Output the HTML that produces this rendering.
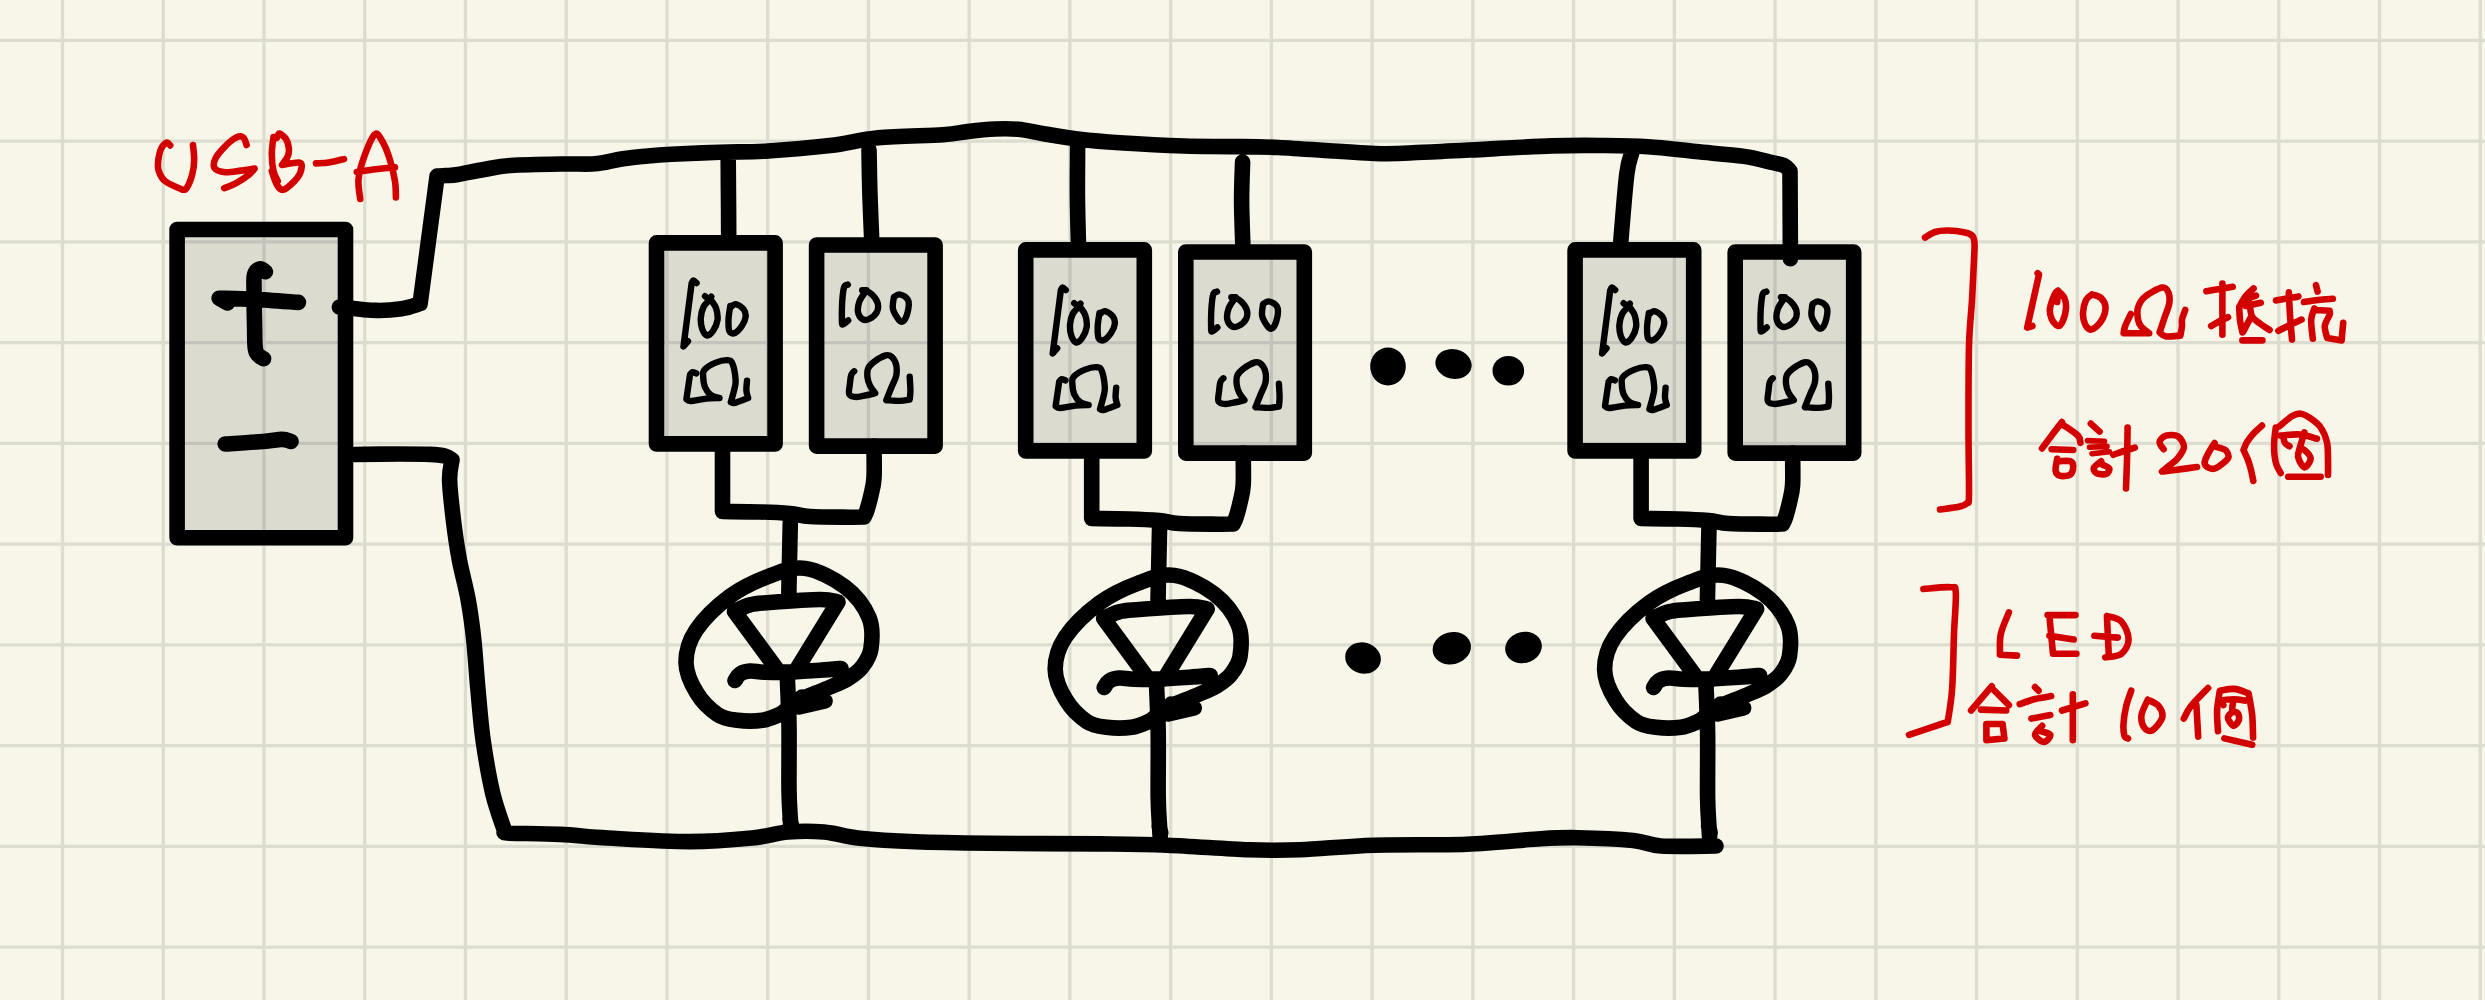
<!DOCTYPE html><html><head><meta charset="utf-8"><style>html,body{margin:0;padding:0;background:#f8f6e8;overflow:hidden}svg{display:block}</style></head><body>
<svg width="2485" height="1000" viewBox="0 0 2485 1000">
<rect width="2485" height="1000" fill="#f8f6e8"/>
<path d="M62.50 0V1000 M163.24 0V1000 M263.98 0V1000 M364.72 0V1000 M465.46 0V1000 M566.20 0V1000 M666.94 0V1000 M767.68 0V1000 M868.42 0V1000 M969.16 0V1000 M1069.90 0V1000 M1170.64 0V1000 M1271.38 0V1000 M1372.12 0V1000 M1472.86 0V1000 M1573.60 0V1000 M1674.34 0V1000 M1775.08 0V1000 M1875.82 0V1000 M1976.56 0V1000 M2077.30 0V1000 M2178.04 0V1000 M2278.78 0V1000 M2379.52 0V1000 M2480.26 0V1000 M0 40.40H2485 M0 141.14H2485 M0 241.88H2485 M0 342.62H2485 M0 443.36H2485 M0 544.10H2485 M0 644.84H2485 M0 745.58H2485 M0 846.32H2485 M0 947.06H2485" stroke="#dcdcd0" stroke-width="3.3" fill="none"/>
<defs><g id="g1"><rect x="656.5" y="242.9" width="118.6" height="201.0" fill="rgba(0,0,16,0.11)" stroke="#000" stroke-width="15.6" stroke-linejoin="round"/><rect x="816.6" y="245.0" width="118.5" height="201.1" fill="rgba(0,0,16,0.11)" stroke="#000" stroke-width="15.6" stroke-linejoin="round"/><path d="M696.6 283.0 C696.1 282.6 694.2 280.3 693.4 280.4 C692.6 280.5 691.9 283.0 691.6 283.5 L683.5 346.5 L688.0 341.1 M705.0 296.2 L706.0 297.0 M711.3 296.6 L710.5 297.5 M709.6 299.7 C708.6 300.9 705.0 303.9 703.5 307.0 C702.0 310.1 701.0 314.3 700.8 318.0 C700.6 321.7 701.2 326.1 702.2 329.0 C703.2 331.9 705.2 335.2 707.0 335.5 C708.8 335.8 711.2 333.6 713.0 331.0 C714.8 328.4 717.0 323.8 717.5 320.0 C718.0 316.2 717.1 311.3 716.0 308.0 C714.9 304.7 711.8 301.3 711.0 300.0 M730.3 307.8 C731.2 307.2 733.5 303.9 735.7 304.2 C738.0 304.5 742.1 307.5 743.8 309.6 C745.4 311.7 745.9 314.1 745.6 316.8 C745.3 319.5 743.8 323.1 742.0 325.8 C740.2 328.5 736.9 332.1 734.8 333.0 C732.7 333.9 730.4 333.4 729.4 331.2 C728.4 328.9 728.4 323.7 728.5 319.5 C728.6 315.3 730.0 308.2 730.3 306.0 M696.3 373.4 C695.6 373.2 693.4 372.0 692.4 372.2 C691.4 372.4 690.4 374.2 690.0 374.6 L686.4 399.2 C687.1 399.5 687.3 401.1 690.6 401.0 C693.9 400.9 701.4 399.1 706.2 398.6 C711.0 398.1 717.2 398.1 719.4 398.0 M719.4 398.0 C718.0 397.5 713.4 396.8 711.0 395.0 C708.6 393.2 706.3 390.2 705.0 387.2 C703.7 384.2 703.3 379.9 703.2 377.0 C703.1 374.1 702.3 372.2 704.4 369.8 C706.5 367.4 711.9 364.2 715.8 362.6 C719.7 361.0 725.0 360.0 727.8 360.2 C730.6 360.4 731.3 360.5 732.6 363.8 C733.9 367.1 735.3 375.8 735.6 380.0 C735.9 384.2 735.2 385.3 734.4 389.0 C733.6 392.7 731.4 400.0 730.8 402.2 C731.5 402.3 732.1 403.5 735.0 402.8 C737.9 402.1 746.0 398.8 748.2 398.0 C747.9 396.8 746.6 393.7 746.4 390.8 C746.2 387.9 746.9 382.3 747.0 380.6 M847.8 284.7 C847.2 285.2 844.9 284.7 844.0 287.5 C843.1 290.3 842.6 296.2 842.2 301.5 C841.9 306.8 841.8 315.1 841.9 319.0 C842.0 322.9 841.5 324.4 842.6 324.6 C843.7 324.8 847.3 321.1 848.2 320.4 M862.2 290.3 L866.4 290.3 M865.0 292.4 C864.1 293.9 860.6 298.2 859.4 301.5 C858.2 304.8 857.5 309.1 858.0 312.0 C858.5 314.9 860.3 317.8 862.2 319.0 C864.1 320.2 866.8 320.2 869.2 319.0 C871.7 317.8 875.5 314.7 876.9 312.0 C878.3 309.3 878.4 305.8 877.6 302.9 C876.8 300.0 874.1 296.6 872.0 294.5 C869.9 292.4 866.2 291.0 865.0 290.3 M894.4 296.6 C895.3 296.2 897.8 294.0 900.0 294.5 C902.2 295.0 906.3 297.1 907.7 299.4 C909.1 301.7 909.0 305.0 908.4 308.5 C907.8 312.0 905.7 318.4 904.2 320.4 C902.7 322.4 901.2 322.3 899.3 320.4 C897.4 318.5 893.9 312.9 893.0 309.2 C892.1 305.5 893.6 299.9 893.7 298.0 M854.2 371.3 C853.7 371.9 851.9 372.8 851.2 374.9 C850.5 377.0 850.2 380.8 849.9 384.0 C849.6 387.2 848.2 392.2 849.3 394.4 C850.4 396.6 853.4 396.9 856.4 397.0 C859.4 397.1 864.4 395.6 867.5 395.0 C870.6 394.4 874.0 393.4 875.3 393.1 C874.4 391.9 871.4 388.5 870.1 385.9 C868.8 383.3 867.8 380.4 867.5 377.5 C867.2 374.6 867.0 371.0 868.1 368.4 C869.2 365.8 871.1 364.1 874.0 361.9 C876.9 359.7 882.8 356.3 885.7 355.4 C888.6 354.5 889.8 355.2 891.5 356.7 C893.2 358.2 895.3 361.2 896.1 364.5 C896.9 367.8 896.9 372.4 896.1 376.2 C895.3 380.0 893.1 383.2 891.5 387.2 C889.9 391.2 887.2 398.0 886.3 400.2 C888.6 400.3 896.1 401.0 900.0 400.9 C903.9 400.8 908.1 399.8 909.7 399.6 C909.8 398.1 910.4 394.3 910.4 390.5 C910.4 386.7 909.8 379.1 909.7 376.8" fill="none" stroke="#000" stroke-linecap="round" stroke-linejoin="round" stroke-width="6.4"/><path d="M722.5 444.0 L722.5 511.5 C728.8 511.6 748.8 511.7 760.0 512.0 C771.2 512.3 781.7 512.8 790.0 513.5 C798.3 514.2 800.0 515.9 810.0 516.5 C820.0 517.1 841.0 517.1 850.0 517.2 C859.0 517.3 861.7 517.0 864.0 517.0 C864.5 515.8 865.8 513.7 867.0 510.0 C868.2 506.3 869.8 500.3 871.0 495.0 C872.2 489.7 873.5 486.2 874.0 478.0 C874.5 469.8 874.0 451.3 874.0 446.0 M790.5 515.0 C790.3 522.5 789.8 545.8 789.5 560.0 C789.2 574.2 788.8 593.3 788.7 600.0 M734.5 611.5 C737.1 610.4 744.1 606.2 750.0 604.8 C755.9 603.2 758.3 603.4 770.0 602.5 C781.7 601.6 808.7 599.6 820.0 599.5 C831.3 599.4 835.0 601.6 838.0 602.0 L795.0 672.0 L779.0 672.0 L734.5 611.5 M735.0 680.5 C735.8 679.4 737.5 675.6 740.0 674.0 C742.5 672.4 745.8 671.3 750.0 671.0 C754.2 670.7 758.3 672.1 765.0 672.3 C771.7 672.5 780.8 672.4 790.0 672.0 C799.2 671.6 811.5 670.8 820.0 670.2 C828.5 669.6 837.5 668.8 841.0 668.5 M787.1 672.0 C787.4 680.8 788.7 705.3 789.0 725.0 C789.3 744.7 788.8 773.8 789.0 790.0 C789.2 806.2 790.2 815.3 790.5 822.0 C790.8 828.7 790.9 828.7 791.0 830.0 M790.0 819.0 L791.5 826.0 M781.0 714.0 C777.9 715.0 769.8 719.2 762.5 720.3 C755.2 721.3 745.0 721.3 737.5 720.3 C730.0 719.3 724.3 718.9 717.5 714.4 C710.7 709.9 702.1 701.8 696.9 693.1 C691.6 684.5 686.1 673.0 686.0 662.5 C685.9 652.0 688.9 641.0 696.2 630.0 C703.6 619.0 717.9 605.2 730.0 596.2 C742.1 587.3 756.2 580.9 768.8 576.2 C781.2 571.6 792.3 566.6 805.0 568.4 C817.7 570.2 834.3 578.7 845.0 586.9 C855.7 595.1 864.7 607.1 869.0 617.5 C873.3 627.9 872.1 640.8 870.9 649.0 C869.7 657.2 865.6 662.2 862.0 667.0 C858.4 671.8 853.5 675.0 849.0 678.0 C844.5 681.0 840.5 682.5 835.0 685.0 C829.5 687.5 822.2 690.3 816.0 693.0 C809.8 695.7 803.8 697.5 798.0 701.0 C792.2 704.5 783.8 711.8 781.0 714.0 M799.0 707.0 L825.0 701.0 M802.0 697.0 L803.0 698.0" fill="none" stroke="#000" stroke-linecap="round" stroke-linejoin="round" stroke-width="15.6"/></g></defs>
<use href="#g1"/>
<use href="#g1" transform="translate(369.2 7)"/>
<use href="#g1" transform="translate(918.6 7)"/>
<rect x="177.1" y="229.5" width="168.4" height="308.3" fill="rgba(0,0,16,0.11)" stroke="#000" stroke-width="15.6" stroke-linejoin="round"/>
<path d="M219.2 298.2 C225.0 298.4 240.8 298.7 254.0 299.4 C267.2 300.1 291.0 301.9 298.4 302.4 M219.2 298.2 L227.6 303.0 M265.4 271.8 C264.5 271.3 261.8 268.4 260.0 268.8 C258.2 269.2 255.6 271.3 254.6 274.2 C253.6 277.1 254.0 277.4 254.0 286.2 C254.0 295.0 254.3 316.2 254.6 327.0 C254.9 337.8 254.3 345.7 255.8 351.0 C257.3 356.3 262.3 357.5 263.6 358.8 M225.2 444.0 C231.5 443.6 253.6 442.3 263.0 441.5 C272.4 440.7 277.2 439.4 281.9 439.4 C286.6 439.4 289.5 441.1 291.0 441.5 M339.4 307.0 C345.5 307.6 365.6 310.1 376.0 310.4 C386.4 310.7 394.1 309.8 401.5 308.7 C408.9 307.6 417.0 304.5 420.1 303.6 L437.1 176.1 C438.6 176.0 442.5 175.9 446.0 175.6 C449.5 175.3 451.7 175.5 458.0 174.5 C464.3 173.5 475.2 171.0 484.0 169.5 C492.8 168.0 497.8 166.4 510.5 165.5 C523.2 164.6 546.4 164.2 560.0 164.0 C573.6 163.8 584.2 164.3 592.0 164.0 C599.8 163.7 601.8 162.9 607.0 162.0 C612.2 161.1 616.2 159.8 623.0 158.8 C629.8 157.8 639.9 156.8 648.0 156.0 C656.1 155.2 659.4 154.9 671.4 154.3 C683.4 153.7 703.6 152.8 719.7 152.2 C735.8 151.6 749.6 152.1 768.0 151.0 C786.4 149.9 811.6 147.8 830.0 145.6 C848.4 143.4 859.5 139.5 878.3 137.7 C897.1 135.9 927.8 135.8 942.7 134.8 C957.7 133.8 959.3 132.5 968.0 131.5 C976.7 130.5 986.7 129.4 995.0 129.0 C1003.3 128.6 1009.7 128.5 1018.0 129.3 C1026.3 130.1 1034.8 132.3 1045.0 134.0 C1055.2 135.7 1067.0 137.8 1079.5 139.3 C1092.0 140.8 1102.3 141.7 1119.7 142.8 C1137.1 143.9 1165.7 145.4 1184.1 146.0 C1202.5 146.6 1214.3 146.3 1230.0 146.6 C1245.7 146.8 1254.1 146.3 1278.3 147.5 C1302.5 148.7 1350.8 152.7 1374.9 153.5 C1399.1 154.3 1404.4 153.0 1423.2 152.3 C1442.0 151.6 1466.0 150.2 1487.5 149.1 C1509.0 148.0 1533.2 146.5 1551.9 145.9 C1570.7 145.3 1584.0 145.3 1600.0 145.5 C1616.0 145.7 1632.0 145.8 1648.0 146.8 C1664.0 147.8 1680.0 150.0 1696.0 151.6 C1712.0 153.2 1731.3 154.6 1744.0 156.4 C1756.7 158.2 1765.3 161.0 1772.0 162.5 C1778.7 164.0 1781.0 164.1 1784.0 165.5 C1787.0 166.9 1789.0 170.1 1790.0 171.0 L1790.4 258.8 M728.2 158.0 C728.2 165.0 728.4 187.0 728.5 200.0 C728.6 213.0 728.7 230.0 728.7 236.0 M869.0 150.0 C869.1 156.7 869.4 175.5 869.8 190.0 C870.2 204.5 871.3 229.2 871.6 237.0 M1077.6 146.0 C1077.6 154.2 1077.3 179.1 1077.4 195.0 C1077.5 210.9 1078.2 233.8 1078.4 241.6 M1242.6 162.0 C1242.4 168.3 1241.6 186.3 1241.6 200.0 C1241.6 213.7 1242.6 236.7 1242.8 244.0 M1632.0 152.0 C1631.1 155.7 1628.6 159.7 1626.8 174.0 C1625.0 188.3 1622.1 226.3 1621.1 238.0 C1620.1 249.7 1621.0 243.0 1621.0 244.0 M354.0 454.5 C361.7 454.4 387.3 454.0 400.0 454.0 C412.7 454.0 422.5 454.1 430.0 454.4 C437.5 454.7 441.3 455.1 445.0 456.0 C448.7 456.9 450.8 459.3 452.0 460.0 C451.6 463.3 449.4 470.0 449.6 480.0 C449.8 490.0 451.8 506.7 453.4 520.0 C455.0 533.3 456.9 546.7 459.4 560.0 C461.9 573.3 465.8 586.7 468.2 600.0 C470.6 613.3 472.2 625.0 473.8 640.0 C475.4 655.0 476.4 673.2 478.0 690.0 C479.6 706.8 480.7 723.5 483.2 740.8 C485.7 758.1 489.2 778.4 492.8 793.6 C496.4 808.8 503.0 825.6 505.0 832.0 C505.8 832.2 500.4 832.8 509.6 833.2 C518.8 833.6 543.6 833.6 560.0 834.4 C576.4 835.2 586.4 836.8 608.0 838.0 C629.6 839.2 665.6 841.6 689.6 841.6 C713.6 841.6 735.6 839.6 752.0 838.0 C768.4 836.4 776.0 833.0 788.0 832.0 C800.0 831.0 812.0 831.0 824.0 832.0 C836.0 833.0 844.8 836.6 860.0 838.2 C875.2 839.8 893.9 840.9 915.5 841.8 C937.1 842.6 958.8 842.9 989.6 843.3 C1020.5 843.6 1071.0 843.6 1100.6 843.9 C1130.2 844.2 1142.6 844.2 1167.3 845.2 C1192.0 846.2 1226.6 849.0 1248.7 849.8 C1270.8 850.6 1279.1 850.6 1300.0 849.8 C1320.9 849.0 1346.2 846.1 1374.0 845.2 C1401.8 844.3 1438.8 845.3 1466.6 844.2 C1494.4 843.1 1522.1 839.8 1540.6 838.7 C1559.1 837.6 1562.3 837.4 1577.7 837.7 C1593.1 838.0 1619.3 839.1 1633.2 840.5 C1647.1 841.9 1647.2 845.1 1661.0 846.0 C1674.8 846.9 1706.8 846.0 1716.0 846.0 " fill="none" stroke="#000" stroke-linecap="round" stroke-linejoin="round" stroke-width="15.6"/>
<ellipse cx="1388.0" cy="366.5" rx="17.8" ry="19.0" transform="rotate(0 1388.0 366.5)" fill="#000"/><ellipse cx="1453.5" cy="364.0" rx="18.3" ry="14.8" transform="rotate(12 1453.5 364.0)" fill="#000"/><ellipse cx="1508.3" cy="370.8" rx="15.8" ry="14.8" transform="rotate(0 1508.3 370.8)" fill="#000"/><ellipse cx="1363.0" cy="658.0" rx="18.0" ry="15.5" transform="rotate(15 1363.0 658.0)" fill="#000"/><ellipse cx="1451.8" cy="648.2" rx="19.4" ry="16.0" transform="rotate(-15 1451.8 648.2)" fill="#000"/><ellipse cx="1523.5" cy="647.5" rx="18.5" ry="15.5" transform="rotate(-15 1523.5 647.5)" fill="#000"/>
<path d="M170.2 145.4 C169.6 144.9 168.1 142.0 166.6 142.6 C165.1 143.2 162.4 145.9 161.0 149.0 C159.6 152.1 158.6 157.4 158.2 161.0 C157.8 164.6 157.5 167.3 158.6 170.6 C159.7 173.9 161.0 177.8 165.0 181.0 C169.0 184.2 179.7 188.3 182.6 189.8 C183.3 189.5 185.0 190.7 186.6 188.2 C188.2 185.7 190.9 179.3 192.2 174.6 C193.5 169.9 194.1 165.1 194.2 160.2 C194.3 155.3 193.2 147.5 193.0 145.0 M246.6 145.0 C246.2 143.9 245.3 140.1 244.2 138.6 C243.1 137.1 242.1 136.1 240.2 136.2 C238.3 136.3 235.8 137.4 233.0 139.4 C230.2 141.4 226.3 145.0 223.4 148.2 C220.5 151.4 216.9 155.3 215.4 158.6 C213.9 161.9 213.0 165.9 214.6 168.2 C216.2 170.5 220.6 171.8 225.0 172.2 C229.4 172.6 236.1 171.2 241.0 170.6 C245.9 170.0 252.3 168.9 254.6 168.6 C253.7 169.6 251.9 172.3 249.0 174.6 C246.1 176.9 241.1 180.3 237.0 182.6 C232.9 184.9 226.3 187.3 224.2 188.2 M273.5 137.0 C273.2 139.8 271.8 148.3 271.8 154.0 C271.8 159.7 272.5 166.5 273.5 171.0 C274.5 175.5 277.1 179.5 277.8 181.2 M276.9 137.9 C277.3 137.2 277.9 133.3 279.5 133.6 C281.1 133.9 284.8 137.2 286.3 139.6 C287.9 142.0 288.5 145.3 288.8 148.0 C289.1 150.7 289.1 152.9 288.0 155.7 C286.9 158.5 283.0 163.4 282.0 165.0 C284.8 164.6 295.7 162.1 299.0 162.5 C302.3 162.9 301.9 165.0 301.6 167.6 C301.3 170.2 300.3 174.1 297.3 177.8 C294.3 181.5 287.1 188.6 283.7 189.7 C280.3 190.8 278.9 187.7 276.9 184.6 C274.9 181.5 272.6 173.3 271.8 171.0 M316.0 163.4 C318.1 163.2 324.1 163.2 328.8 162.5 C333.5 161.8 341.5 159.7 344.0 159.1 M360.2 199.0 C359.9 195.8 357.9 186.3 358.5 179.5 C359.1 172.7 360.9 165.8 363.6 158.3 C366.3 150.8 371.6 137.3 374.7 134.5 C377.8 131.7 379.8 137.1 382.3 141.3 C384.9 145.6 387.9 153.3 390.0 160.0 C392.1 166.7 394.0 175.0 395.0 181.2 C396.0 187.4 395.8 194.7 395.9 197.4 M356.8 171.9 C359.9 171.5 369.1 170.1 375.5 169.3 C381.9 168.5 391.8 167.5 395.0 167.2 M1925.0 237.5 C1926.7 236.6 1931.2 233.2 1935.0 232.0 C1938.8 230.8 1943.0 230.4 1948.0 230.5 C1953.0 230.6 1960.9 231.6 1965.0 232.5 C1969.1 233.4 1970.9 234.2 1972.5 236.0 C1974.1 237.8 1974.2 239.0 1974.5 243.0 C1974.8 247.0 1974.4 250.5 1974.0 260.0 C1973.6 269.5 1972.8 285.7 1972.0 300.0 C1971.2 314.3 1969.6 324.3 1969.0 346.0 C1968.4 367.7 1968.5 405.2 1968.5 430.0 C1968.5 454.8 1969.2 482.8 1969.0 495.0 C1968.8 507.2 1968.5 501.1 1967.0 503.0 C1965.5 504.9 1964.5 505.4 1960.0 506.5 C1955.5 507.6 1943.3 509.0 1940.0 509.5 M1923.4 589.0 C1927.9 588.7 1945.0 586.6 1950.4 587.2 C1955.8 587.8 1955.2 584.8 1955.8 592.6 C1956.4 600.4 1954.6 618.1 1954.0 634.0 C1953.4 649.9 1953.2 673.3 1952.2 688.0 C1951.2 702.7 1948.5 716.5 1947.7 722.2 C1946.7 722.5 1947.9 721.9 1941.4 724.0 C1935.0 726.1 1914.4 733.0 1909.0 734.8 M2037.6 273.2 L2039.0 274.5 L2027.2 327.6 L2032.4 326.0 M2057.2 302.0 L2058.0 290.8 M2058.0 290.8 C2059.1 292.0 2063.1 295.1 2064.4 298.0 C2065.7 300.9 2066.3 304.5 2066.0 308.4 C2065.7 312.3 2064.1 318.3 2062.8 321.2 C2061.5 324.1 2059.9 326.4 2058.0 326.0 C2056.1 325.6 2052.9 321.7 2051.6 318.8 C2050.3 315.9 2049.5 312.5 2050.0 308.4 C2050.5 304.3 2053.5 296.9 2054.8 294.0 C2056.1 291.1 2057.5 291.3 2058.0 290.8 M2092.0 294.5 C2093.5 295.1 2098.8 295.9 2101.0 298.0 C2103.2 300.1 2105.2 303.7 2105.5 307.0 C2105.8 310.3 2104.6 314.7 2103.0 318.0 C2101.4 321.3 2098.2 325.1 2096.0 327.0 C2093.8 328.9 2091.8 330.0 2090.0 329.5 C2088.2 329.0 2086.2 326.8 2085.0 324.0 C2083.8 321.2 2082.8 317.0 2083.0 313.0 C2083.2 309.0 2084.5 303.1 2086.0 300.0 C2087.5 296.9 2091.0 295.4 2092.0 294.5 M2130.8 314.0 C2129.9 316.0 2126.4 322.8 2125.2 326.0 C2124.0 329.2 2123.9 332.0 2123.6 333.2 L2149.2 333.2 C2147.9 332.1 2143.1 328.9 2141.2 326.6 C2139.3 324.3 2138.5 322.8 2138.0 319.6 C2137.5 316.4 2136.9 311.3 2138.0 307.6 C2139.1 303.9 2140.4 300.5 2144.4 297.2 C2148.4 293.9 2158.0 288.4 2162.0 287.6 C2166.0 286.8 2167.2 289.7 2168.4 292.4 C2169.6 295.1 2169.9 299.3 2169.2 303.6 C2168.5 307.9 2166.0 313.2 2164.4 318.0 C2162.8 322.8 2160.4 330.0 2159.6 332.4 C2160.7 333.1 2162.5 335.9 2166.0 336.4 C2169.5 336.9 2178.0 335.7 2180.4 335.6 C2180.7 334.0 2181.7 328.7 2182.0 326.0 C2182.3 323.3 2181.5 322.3 2182.0 319.6 C2182.5 316.9 2184.7 311.6 2185.2 310.0 M2206.4 291.2 C2208.7 290.8 2215.6 289.7 2220.0 289.0 C2224.4 288.3 2230.7 287.2 2232.8 286.8 M2222.4 283.6 C2222.4 288.0 2222.4 301.5 2222.4 310.0 C2222.4 318.5 2222.4 330.7 2222.4 334.8 M2211.2 326.0 C2212.7 325.2 2217.2 322.5 2220.0 321.0 C2222.8 319.5 2226.7 317.8 2228.0 317.2 M2253.6 288.4 C2252.2 289.8 2247.4 293.9 2245.0 297.0 C2242.6 300.1 2240.2 305.2 2239.2 306.8 C2239.3 309.0 2239.5 315.7 2240.0 320.0 C2240.5 324.3 2242.0 330.3 2242.4 332.4 M2256.0 295.6 C2255.0 296.0 2251.6 296.7 2250.0 298.0 C2248.4 299.3 2247.0 302.7 2246.4 303.6 M2245.6 306.0 L2260.8 302.8 M2249.6 303.0 C2250.0 305.2 2250.3 313.0 2252.0 316.4 C2253.7 319.8 2257.1 321.2 2260.0 323.5 C2262.9 325.8 2268.0 328.9 2269.6 330.0 M2250.4 318.0 L2243.2 331.6 M2242.4 340.4 L2262.4 340.4 M2276.0 300.4 C2277.8 300.1 2283.3 299.2 2287.0 298.5 C2290.7 297.8 2296.5 296.8 2298.4 296.4 M2288.8 292.4 C2289.0 296.2 2289.5 307.1 2290.0 315.0 C2290.5 322.9 2291.7 335.5 2292.0 339.6 M2278.4 330.8 C2280.3 329.8 2286.1 326.9 2290.0 325.0 C2293.9 323.1 2299.7 320.5 2301.6 319.6 M2316.0 285.2 L2317.6 291.6 M2304.0 302.0 C2306.3 301.7 2313.2 300.5 2318.0 300.0 C2322.8 299.5 2330.3 299.0 2332.8 298.8 M2314.4 308.4 C2313.9 310.3 2311.5 314.5 2311.2 319.6 C2310.9 324.7 2312.5 335.6 2312.8 338.8 M2316.0 310.0 L2329.6 310.8 C2329.6 311.5 2330.4 312.3 2329.6 314.8 C2328.8 317.3 2325.2 322.1 2324.8 326.0 C2324.4 329.9 2326.8 336.0 2327.2 338.0 L2341.6 340.4 L2343.2 322.8 M2062.0 422.0 C2060.3 424.2 2055.3 430.6 2052.0 435.0 C2048.7 439.4 2043.7 446.2 2042.0 448.4 M2063.6 425.2 C2066.0 426.9 2075.2 432.7 2078.0 435.6 C2080.8 438.5 2080.0 441.6 2080.4 442.8 M2051.6 449.2 L2073.2 450.0 M2057.2 458.8 C2056.9 460.8 2055.2 468.0 2055.6 470.8 C2056.0 473.6 2057.2 474.9 2059.6 475.6 C2062.0 476.3 2067.7 476.4 2070.0 474.8 C2072.3 473.2 2073.2 468.3 2073.2 466.0 C2073.2 463.7 2072.1 462.0 2070.0 461.2 C2067.9 460.4 2062.0 461.2 2060.4 461.2 M2090.8 423.6 L2099.6 431.6 M2101.2 461.2 C2100.0 462.3 2094.8 465.6 2094.0 467.6 C2093.2 469.6 2094.4 472.1 2096.4 473.2 C2098.4 474.3 2103.9 474.8 2106.0 474.0 C2108.1 473.2 2109.9 470.0 2109.2 468.4 C2108.5 466.8 2103.2 465.1 2102.0 464.4 M2127.6 427.6 C2127.5 433.0 2127.3 449.9 2127.0 460.0 C2126.7 470.1 2126.2 483.7 2126.0 488.4 M2113.2 454.8 C2115.0 454.2 2120.4 452.2 2124.0 451.0 C2127.6 449.8 2133.0 448.2 2134.8 447.6 M2163.6 449.2 C2162.9 448.0 2159.2 444.3 2159.6 442.0 C2160.0 439.7 2162.9 436.5 2166.0 435.6 C2169.1 434.7 2175.0 434.5 2178.0 436.4 C2181.0 438.3 2184.0 443.4 2184.0 447.0 C2184.0 450.6 2180.3 455.0 2178.0 458.0 C2175.7 461.0 2172.7 462.8 2170.0 465.0 C2167.3 467.2 2163.3 470.4 2162.0 471.5 C2164.2 471.2 2169.2 470.8 2175.0 470.0 C2180.8 469.2 2193.3 467.5 2197.0 467.0 M2214.6 443.0 C2213.7 444.5 2210.7 448.8 2209.0 452.0 C2207.3 455.2 2204.8 459.8 2204.6 462.4 C2204.4 465.0 2206.3 466.5 2208.0 467.5 C2209.7 468.5 2212.3 469.2 2214.6 468.6 C2216.9 468.0 2219.7 465.9 2222.0 464.0 C2224.3 462.1 2227.7 459.6 2228.4 457.4 C2229.1 455.1 2227.2 452.0 2226.0 450.5 C2224.8 449.0 2223.1 448.9 2220.9 448.2 C2218.7 447.4 2214.3 446.4 2213.0 446.0 M2262.0 425.6 C2260.7 426.8 2256.5 430.3 2254.0 433.0 C2251.5 435.7 2248.8 439.2 2247.0 442.0 C2245.2 444.8 2244.1 448.7 2243.5 450.0 C2244.2 451.7 2246.8 456.7 2248.0 460.0 C2249.2 463.3 2250.1 466.5 2251.0 470.0 C2251.9 473.5 2252.9 479.2 2253.3 481.0 M2275.8 427.5 C2275.5 429.9 2274.4 437.4 2274.2 442.0 C2274.0 446.6 2274.1 451.1 2274.5 454.9 C2274.9 458.7 2275.5 462.0 2276.5 465.0 C2277.5 468.0 2280.0 471.7 2280.7 473.0 M2279.5 426.2 C2281.6 424.5 2288.5 418.3 2292.0 416.2 C2295.5 414.1 2297.7 413.4 2300.7 413.7 C2303.7 414.0 2306.7 415.7 2310.0 418.0 C2313.3 420.3 2317.9 423.4 2320.7 427.5 C2323.5 431.6 2325.8 437.0 2327.0 442.4 C2328.2 447.8 2327.8 454.6 2328.0 460.0 C2328.2 465.4 2328.0 472.4 2328.0 474.9 M2280.7 435.5 C2283.9 435.3 2293.9 434.0 2300.0 434.5 C2306.1 435.0 2314.2 438.0 2317.0 438.7 M2283.2 436.2 C2283.5 437.3 2283.9 441.3 2285.0 443.0 C2286.1 444.7 2288.8 445.7 2289.5 446.2 M2304.4 432.4 L2299.5 448.7 C2299.3 450.1 2297.4 454.3 2298.2 457.4 C2299.0 460.5 2302.3 467.2 2304.4 467.4 C2306.5 467.6 2310.7 461.5 2310.7 458.6 C2310.7 455.7 2306.3 451.5 2304.4 449.9 C2302.5 448.2 2300.3 448.9 2299.5 448.7 M2288.2 476.7 L2320.7 476.7 M2008.9 612.4 C2007.6 616.0 2002.3 627.0 2000.8 634.0 C1999.3 641.0 2000.1 651.2 1999.9 654.7 L2017.0 655.6 M2047.6 615.1 L2075.5 615.1 M2049.4 616.0 L2053.0 653.8 M2049.4 635.8 L2073.7 639.4 M2053.0 653.8 L2076.4 653.8 M2107.0 616.0 C2109.4 616.9 2117.8 617.5 2121.4 621.4 C2125.0 625.3 2128.6 634.0 2128.6 639.4 C2128.6 644.8 2125.3 650.8 2121.4 653.8 C2117.5 656.8 2107.9 656.8 2105.2 657.4 M2107.0 617.8 L2108.8 655.6 M2094.4 635.8 L2117.8 637.6 M1991.8 686.2 L1971.1 710.5 M1991.8 688.0 L2008.9 705.1 M1981.0 709.6 L2006.2 710.5 M1986.4 724.0 L1986.4 740.2 L2004.4 738.4 L2002.6 724.0 L1986.4 724.0 M2035.0 687.1 L2038.6 690.7 M2019.7 704.2 C2022.2 703.3 2029.8 700.4 2035.0 699.0 C2040.2 697.6 2048.5 696.6 2051.2 696.1 M2031.4 718.6 L2050.3 715.0 M2042.2 725.8 C2041.0 727.3 2034.7 732.1 2035.0 734.8 C2035.3 737.5 2041.5 742.0 2044.0 742.0 C2046.5 742.0 2050.9 736.6 2050.3 734.8 C2049.7 733.0 2042.1 731.8 2040.4 731.2 M2072.8 694.3 L2072.8 740.2 M2062.0 710.5 L2085.4 703.3 M2131.2 690.7 C2130.4 693.2 2127.5 700.5 2126.2 706.0 C2124.9 711.5 2123.8 719.0 2123.5 724.0 C2123.2 729.0 2123.7 733.3 2124.4 735.7 C2125.2 738.1 2127.4 738.0 2128.0 738.4 M2147.8 699.7 C2146.8 702.2 2142.1 710.4 2141.5 715.0 C2140.9 719.6 2142.4 725.1 2144.2 727.6 C2146.0 730.1 2149.3 731.9 2152.3 730.3 C2155.3 728.6 2161.1 721.8 2162.2 717.7 C2163.2 713.7 2161.0 709.0 2158.6 706.0 C2156.2 703.0 2149.6 700.8 2147.8 699.7 M2208.1 688.0 C2205.2 691.0 2195.1 700.9 2191.0 706.0 C2186.9 711.1 2185.0 716.5 2183.8 718.6 M2196.4 705.1 L2198.2 736.6 M2218.0 731.2 C2217.8 727.8 2216.8 717.2 2217.1 710.5 C2217.4 703.8 2219.4 694.0 2219.8 690.7 C2222.2 690.4 2229.4 688.5 2234.2 688.9 C2239.0 689.3 2246.2 692.6 2248.6 693.4 C2249.2 697.0 2251.4 707.6 2252.2 715.0 C2252.9 722.4 2252.9 733.8 2253.1 737.5 M2223.4 705.1 C2223.2 704.4 2220.7 701.6 2222.5 700.6 C2224.3 699.6 2230.4 699.3 2234.2 699.3 C2237.9 699.3 2243.2 700.4 2245.0 700.6 M2233.3 700.6 C2233.2 702.2 2231.7 708.4 2232.4 710.5 C2233.2 712.6 2236.8 711.6 2237.8 713.2 C2238.9 714.9 2239.4 718.3 2238.7 720.4 C2237.9 722.5 2235.1 726.2 2233.3 725.8 C2231.5 725.3 2228.1 720.0 2227.9 717.7 C2227.7 715.4 2231.3 713.0 2232.0 712.0 M2224.3 738.4 L2252.2 744.7" fill="none" stroke="#d20000" stroke-width="6.6" stroke-linecap="round" stroke-linejoin="round"/>
<path d="M2087.5 440.6 L2104.5 441.2 M2089.5 447.2 L2107.0 446.4 M2092.0 453.8 L2109.5 451.8" fill="none" stroke="#d20000" stroke-width="5.6" stroke-linecap="round" stroke-linejoin="round"/>
</svg></body></html>
